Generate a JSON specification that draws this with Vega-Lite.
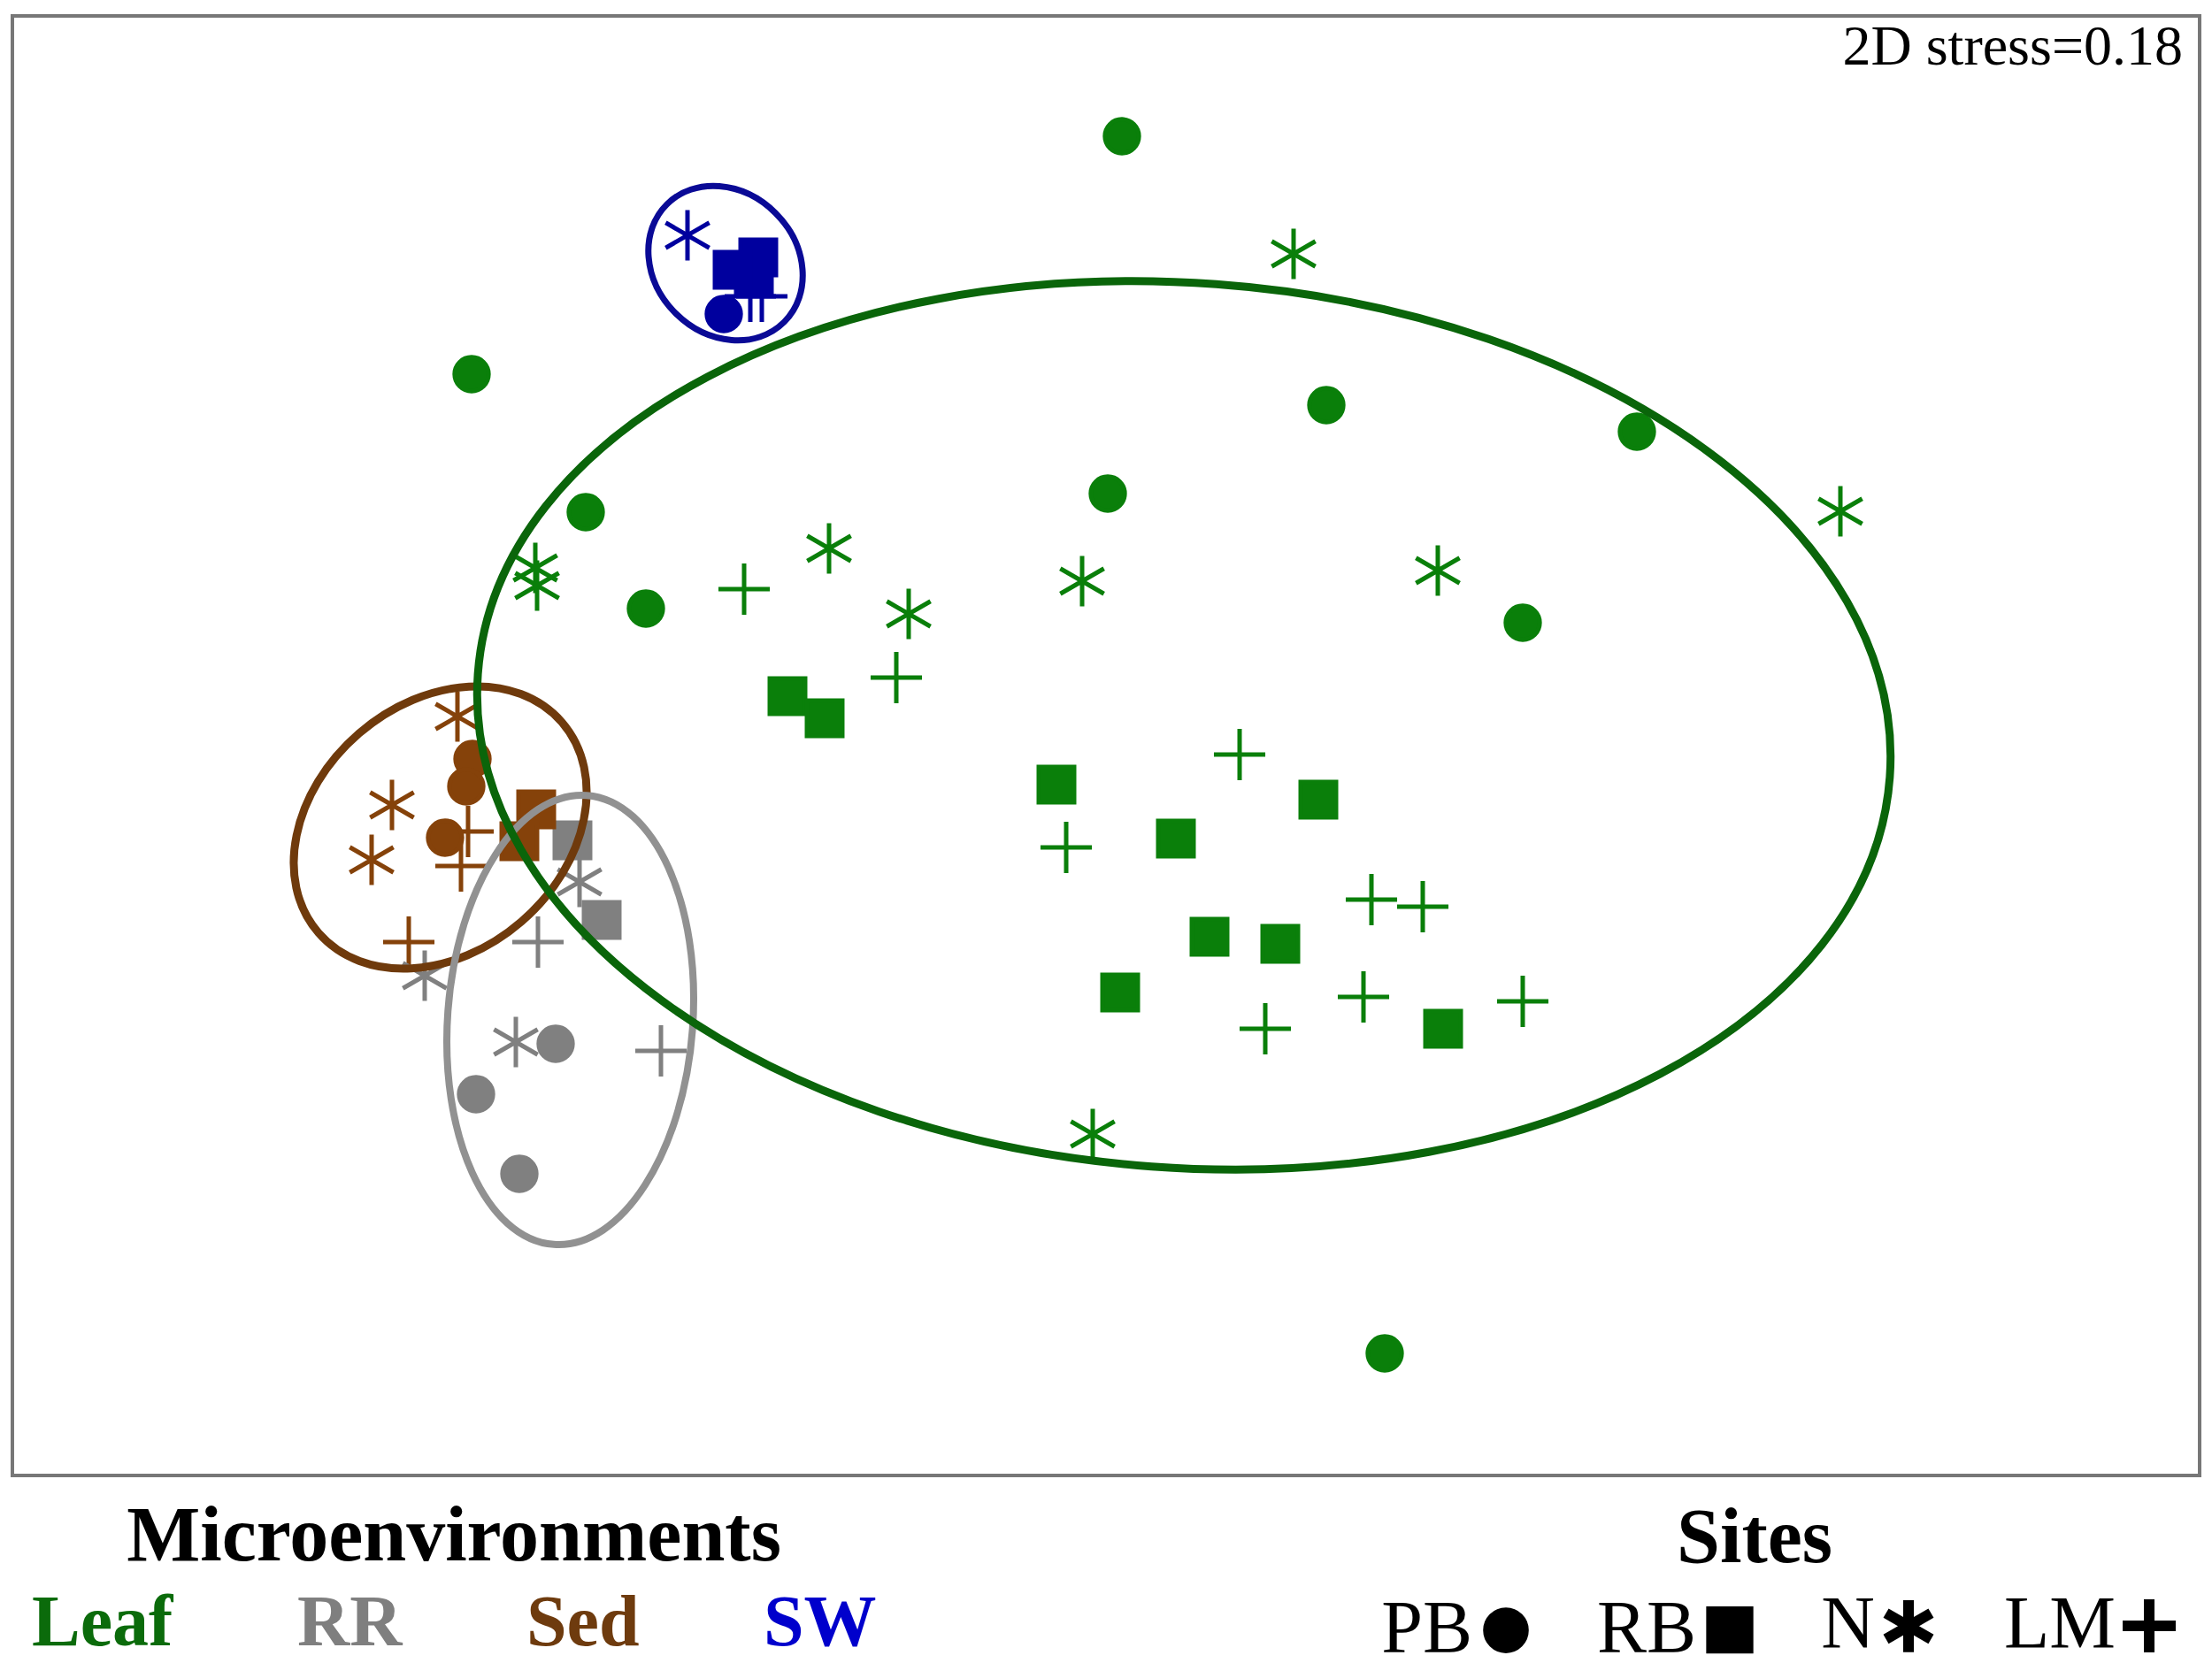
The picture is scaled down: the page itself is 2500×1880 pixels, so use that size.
{
  "$schema": "https://vega.github.io/schema/vega-lite/v6.json",
  "autosize": {"type": "none"},
  "width": 2472,
  "height": 1650,
  "padding": {"left": 14, "top": 18, "right": 14, "bottom": 212},
  "background": "white",
  "config": {
    "view": {"stroke": "#777777", "strokeWidth": 4},
    "legend": {"symbolBaseFillColor": "#000000", "symbolBaseStrokeColor": "#000000"}
  },
  "datasets": {
    "points": [
      {"env": "Leaf", "site": "LM", "nmds1": -0.409, "nmds2": 0.177},
      {"env": "Leaf", "site": "LM", "nmds1": -0.237, "nmds2": 0.077},
      {"env": "Leaf", "site": "LM", "nmds1": 0.151, "nmds2": -0.010},
      {"env": "Leaf", "site": "LM", "nmds1": -0.045, "nmds2": -0.115},
      {"env": "Leaf", "site": "LM", "nmds1": 0.300, "nmds2": -0.174},
      {"env": "Leaf", "site": "LM", "nmds1": 0.358, "nmds2": -0.182},
      {"env": "Leaf", "site": "LM", "nmds1": 0.291, "nmds2": -0.284},
      {"env": "Leaf", "site": "LM", "nmds1": 0.471, "nmds2": -0.289},
      {"env": "Leaf", "site": "LM", "nmds1": 0.180, "nmds2": -0.320},
      {"env": "Sed", "site": "LM", "nmds1": -0.721, "nmds2": -0.097},
      {"env": "Sed", "site": "LM", "nmds1": -0.729, "nmds2": -0.136},
      {"env": "Sed", "site": "LM", "nmds1": -0.788, "nmds2": -0.222},
      {"env": "RR", "site": "LM", "nmds1": -0.642, "nmds2": -0.222},
      {"env": "RR", "site": "LM", "nmds1": -0.503, "nmds2": -0.345},
      {"env": "SW", "site": "LM", "nmds1": -0.402, "nmds2": 0.508},
      {"env": "SW", "site": "LM", "nmds1": -0.389, "nmds2": 0.508},
      {"env": "Leaf", "site": "N", "nmds1": 0.212, "nmds2": 0.556},
      {"env": "Leaf", "site": "N", "nmds1": 0.830, "nmds2": 0.265},
      {"env": "Leaf", "site": "N", "nmds1": -0.313, "nmds2": 0.223},
      {"env": "Leaf", "site": "N", "nmds1": -0.645, "nmds2": 0.201},
      {"env": "Leaf", "site": "N", "nmds1": -0.643, "nmds2": 0.181},
      {"env": "Leaf", "site": "N", "nmds1": -0.223, "nmds2": 0.149},
      {"env": "Leaf", "site": "N", "nmds1": -0.027, "nmds2": 0.186},
      {"env": "Leaf", "site": "N", "nmds1": 0.375, "nmds2": 0.198},
      {"env": "Leaf", "site": "N", "nmds1": -0.015, "nmds2": -0.439},
      {"env": "Sed", "site": "N", "nmds1": -0.733, "nmds2": 0.033},
      {"env": "Sed", "site": "N", "nmds1": -0.807, "nmds2": -0.067},
      {"env": "Sed", "site": "N", "nmds1": -0.830, "nmds2": -0.129},
      {"env": "RR", "site": "N", "nmds1": -0.595, "nmds2": -0.154},
      {"env": "RR", "site": "N", "nmds1": -0.770, "nmds2": -0.260},
      {"env": "RR", "site": "N", "nmds1": -0.667, "nmds2": -0.335},
      {"env": "SW", "site": "N", "nmds1": -0.473, "nmds2": 0.577},
      {"env": "Leaf", "site": "PB", "nmds1": 0.018, "nmds2": 0.689},
      {"env": "Leaf", "site": "PB", "nmds1": -0.717, "nmds2": 0.420},
      {"env": "Leaf", "site": "PB", "nmds1": 0.249, "nmds2": 0.385},
      {"env": "Leaf", "site": "PB", "nmds1": 0.600, "nmds2": 0.355},
      {"env": "Leaf", "site": "PB", "nmds1": 0.002, "nmds2": 0.285},
      {"env": "Leaf", "site": "PB", "nmds1": -0.588, "nmds2": 0.264},
      {"env": "Leaf", "site": "PB", "nmds1": -0.520, "nmds2": 0.155},
      {"env": "Leaf", "site": "PB", "nmds1": 0.471, "nmds2": 0.139},
      {"env": "Leaf", "site": "PB", "nmds1": 0.315, "nmds2": -0.687},
      {"env": "Sed", "site": "PB", "nmds1": -0.716, "nmds2": -0.015},
      {"env": "Sed", "site": "PB", "nmds1": -0.723, "nmds2": -0.046},
      {"env": "Sed", "site": "PB", "nmds1": -0.747, "nmds2": -0.104},
      {"env": "RR", "site": "PB", "nmds1": -0.622, "nmds2": -0.337},
      {"env": "RR", "site": "PB", "nmds1": -0.712, "nmds2": -0.394},
      {"env": "RR", "site": "PB", "nmds1": -0.663, "nmds2": -0.484},
      {"env": "SW", "site": "PB", "nmds1": -0.432, "nmds2": 0.488},
      {"env": "Leaf", "site": "RB", "nmds1": -0.360, "nmds2": 0.056},
      {"env": "Leaf", "site": "RB", "nmds1": -0.318, "nmds2": 0.031},
      {"env": "Leaf", "site": "RB", "nmds1": -0.056, "nmds2": -0.044},
      {"env": "Leaf", "site": "RB", "nmds1": 0.240, "nmds2": -0.061},
      {"env": "Leaf", "site": "RB", "nmds1": 0.079, "nmds2": -0.105},
      {"env": "Leaf", "site": "RB", "nmds1": 0.117, "nmds2": -0.216},
      {"env": "Leaf", "site": "RB", "nmds1": 0.197, "nmds2": -0.224},
      {"env": "Leaf", "site": "RB", "nmds1": 0.016, "nmds2": -0.279},
      {"env": "Leaf", "site": "RB", "nmds1": 0.381, "nmds2": -0.320},
      {"env": "RR", "site": "RB", "nmds1": -0.603, "nmds2": -0.107},
      {"env": "RR", "site": "RB", "nmds1": -0.570, "nmds2": -0.197},
      {"env": "Sed", "site": "RB", "nmds1": -0.644, "nmds2": -0.072},
      {"env": "Sed", "site": "RB", "nmds1": -0.663, "nmds2": -0.108},
      {"env": "SW", "site": "RB", "nmds1": -0.393, "nmds2": 0.552},
      {"env": "SW", "site": "RB", "nmds1": -0.398, "nmds2": 0.532},
      {"env": "SW", "site": "RB", "nmds1": -0.422, "nmds2": 0.538}
    ],
    "ellipses": [
      {"env": "Sed", "nmds1": -0.7525, "nmds2": -0.0925},
      {"env": "RR", "nmds1": -0.6055, "nmds2": -0.310},
      {"env": "SW", "nmds1": -0.430, "nmds2": 0.5455},
      {"env": "Leaf", "nmds1": 0.088, "nmds2": 0.023}
    ]
  },
  "layer": [
    {
      "data": {"name": "points"},
      "mark": {"type": "point", "filled": true, "strokeWidth": 5, "opacity": 1},
      "encoding": {
        "x": {"field": "nmds1", "type": "quantitative", "scale": {"domain": [-1.236, 1.236], "nice": false, "zero": false}, "axis": null},
        "y": {"field": "nmds2", "type": "quantitative", "scale": {"domain": [-0.825, 0.825], "nice": false, "zero": false}, "axis": null},
        "color": {
          "field": "env", "type": "nominal",
          "scale": {"domain": ["Leaf", "RR", "Sed", "SW"], "range": ["#0a7f0a", "#808080", "#85420a", "#00009e"]},
          "legend": {
            "title": "Microenvironments", "orient": "none", "legendX": 22, "legendY": 1676, "direction": "horizontal",
            "titleAnchor": "middle", "titleFont": "Liberation Serif", "titleFontSize": 88, "titleFontWeight": "bold", "titleColor": "#000000", "titlePadding": 12, "titleLimit": 2000,
            "labelFont": "Liberation Serif", "labelFontSize": 82, "labelFontWeight": "bold", "labelLimit": 1000,
            "labelColor": {"expr": "datum.value == 'Leaf' ? '#0b6b0b' : datum.value == 'RR' ? '#7f7f7f' : datum.value == 'Sed' ? '#6e3b0e' : '#0000cc'"},
            "symbolSize": 0, "symbolOpacity": 0, "symbolStrokeWidth": 0, "labelOffset": -82, "columnPadding": 140, "padding": 0
          }
        },
        "stroke": {
          "field": "env", "type": "nominal",
          "scale": {"domain": ["Leaf", "RR", "Sed", "SW"], "range": ["#0a7f0a", "#808080", "#85420a", "#00009e"]},
          "legend": null
        },
        "shape": {
          "field": "site", "type": "nominal",
          "scale": {"domain": ["PB", "RB", "N", "LM"], "range": [
            "M-7.0,0C-7.0,-3.866,-3.866,-7.0,0,-7.0C3.866,-7.0,7.0,-3.866,7.0,0C7.0,3.866,3.866,7.0,0,7.0C-3.866,7.0,-7.0,3.866,-7.0,0Z",
            "M-7.3,-7.3L7.3,-7.3L7.3,7.3L-7.3,7.3Z",
            "M0,-10.4L0,10.4M-9.0,-5.2L9.0,5.2M-9.0,5.2L9.0,-5.2",
            "M-10.6,0L10.6,0M0,-10.6L0,10.6"
          ]},
          "legend": {
            "title": "Sites", "orient": "none", "legendX": 1646, "legendY": 1678, "direction": "horizontal",
            "titleAnchor": "middle", "titleAlign": "right", "titleFont": "Liberation Serif", "titleFontSize": 88, "titleFontWeight": "bold", "titleColor": "#000000", "titlePadding": 12, "titleLimit": 2000,
            "labelFont": "Liberation Serif", "labelFontSize": 84, "labelFontWeight": "normal", "labelColor": "#000000", "labelLimit": 1000,
            "labelAlign": "right", "labelOffset": -80,
            "symbolSize": 32, "symbolOpacity": 1, "symbolStrokeWidth": 12, "symbolFillColor": "#000000", "symbolStrokeColor": "#000000",
            "columnPadding": 58, "padding": 0
          }
        }
      }
    },
    {
      "data": {"name": "ellipses"},
      "transform": [{"filter": "datum.env == 'Sed'"}],
      "mark": {"type": "point", "shape": "M-1,0C-1,-0.4266,-0.5523,-0.7724,0,-0.7724C0.5523,-0.7724,1,-0.4266,1,0C1,0.4266,0.5523,0.7724,0,0.7724C-0.5523,0.7724,-1,0.4266,-1,0Z", "size": 132352, "angle": 319.2, "filled": false, "stroke": "#6f3a0c", "strokeWidth": 9, "opacity": 1},
      "encoding": {
        "x": {"field": "nmds1", "type": "quantitative", "scale": {"domain": [-1.236, 1.236], "nice": false, "zero": false}, "axis": null},
        "y": {"field": "nmds2", "type": "quantitative", "scale": {"domain": [-0.825, 0.825], "nice": false, "zero": false}, "axis": null}
      }
    },
    {
      "data": {"name": "ellipses"},
      "transform": [{"filter": "datum.env == 'RR'"}],
      "mark": {"type": "point", "shape": "M-0.5446,0C-0.5446,-0.5523,-0.3008,-1,0,-1C0.3008,-1,0.5446,-0.5523,0.5446,0C0.5446,0.5523,0.3008,1,0,1C-0.3008,1,-0.5446,0.5523,-0.5446,0Z", "size": 259081, "angle": 4.2, "filled": false, "stroke": "#919191", "strokeWidth": 8, "opacity": 1},
      "encoding": {
        "x": {"field": "nmds1", "type": "quantitative", "scale": {"domain": [-1.236, 1.236], "nice": false, "zero": false}, "axis": null},
        "y": {"field": "nmds2", "type": "quantitative", "scale": {"domain": [-0.825, 0.825], "nice": false, "zero": false}, "axis": null}
      }
    },
    {
      "data": {"name": "ellipses"},
      "transform": [{"filter": "datum.env == 'SW'"}],
      "mark": {"type": "point", "shape": "M-1,0C-1,-0.4706,-0.5523,-0.852,0,-0.852C0.5523,-0.852,1,-0.4706,1,0C1,0.4706,0.5523,0.852,0,0.852C-0.5523,0.852,-1,0.4706,-1,0Z", "size": 35269, "angle": 45, "filled": false, "stroke": "#0a0a96", "strokeWidth": 7, "opacity": 1},
      "encoding": {
        "x": {"field": "nmds1", "type": "quantitative", "scale": {"domain": [-1.236, 1.236], "nice": false, "zero": false}, "axis": null},
        "y": {"field": "nmds2", "type": "quantitative", "scale": {"domain": [-0.825, 0.825], "nice": false, "zero": false}, "axis": null}
      }
    },
    {
      "data": {"name": "ellipses"},
      "transform": [{"filter": "datum.env == 'Leaf'"}],
      "mark": {"type": "point", "shape": "M-1,0C-1,-0.3452,-0.5523,-0.625,0,-0.625C0.5523,-0.625,1,-0.3452,1,0C1,0.3452,0.5523,0.625,0,0.625C-0.5523,0.625,-1,0.3452,-1,0Z", "size": 2560000, "angle": 4.2, "filled": false, "stroke": "#0a650a", "strokeWidth": 9, "opacity": 1},
      "encoding": {
        "x": {"field": "nmds1", "type": "quantitative", "scale": {"domain": [-1.236, 1.236], "nice": false, "zero": false}, "axis": null},
        "y": {"field": "nmds2", "type": "quantitative", "scale": {"domain": [-0.825, 0.825], "nice": false, "zero": false}, "axis": null}
      }
    },
    {
      "data": {"values": [{"label": "2D stress=0.18"}]},
      "mark": {"type": "text", "align": "right", "baseline": "alphabetic", "dx": -19, "dy": 55, "font": "Liberation Serif", "fontSize": 64, "color": "#000000"},
      "encoding": {
        "text": {"field": "label", "type": "nominal"},
        "x": {"datum": 1.236, "type": "quantitative", "scale": {"domain": [-1.236, 1.236], "nice": false, "zero": false}, "axis": null},
        "y": {"datum": 0.825, "type": "quantitative", "scale": {"domain": [-0.825, 0.825], "nice": false, "zero": false}, "axis": null}
      }
    }
  ]
}
